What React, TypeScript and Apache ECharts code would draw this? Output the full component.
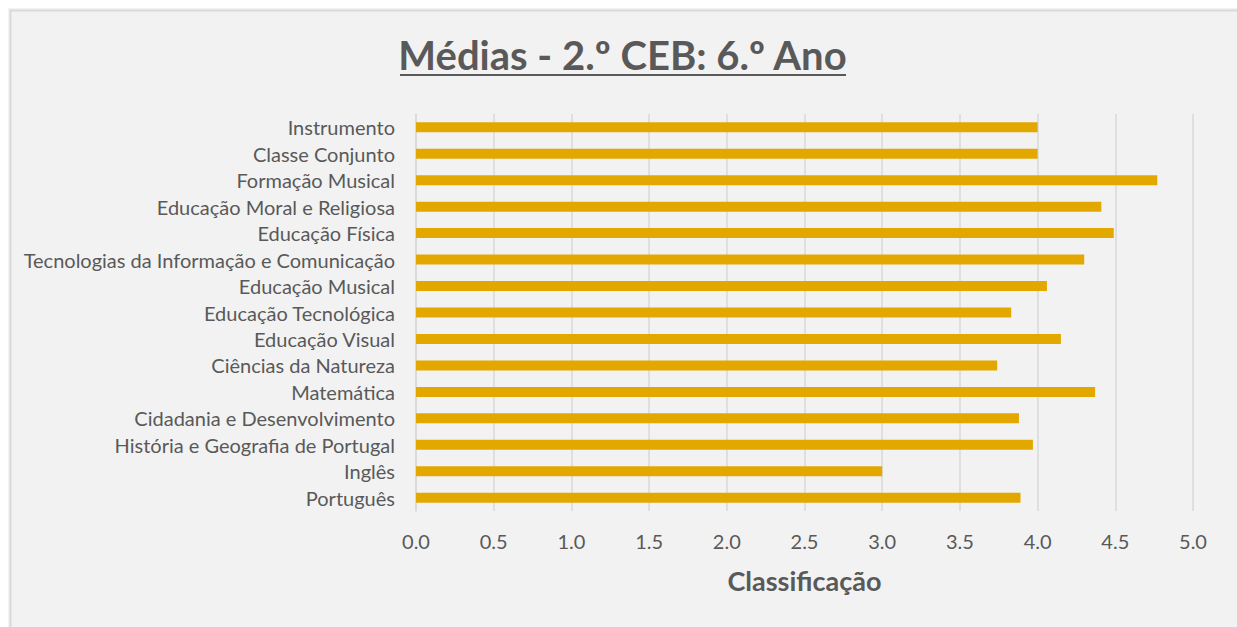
import React, { useEffect, useRef } from "react";
import * as echarts from "echarts";

const categories = [
  "Português",
  "Inglês",
  "História e Geografia de Portugal",
  "Cidadania e Desenvolvimento",
  "Matemática",
  "Ciências da Natureza",
  "Educação Visual",
  "Educação Tecnológica",
  "Educação Musical",
  "Tecnologias da Informação e Comunicação",
  "Educação Física",
  "Educação Moral e Religiosa",
  "Formação Musical",
  "Classe Conjunto",
  "Instrumento",
];

const values = [3.89, 3.0, 3.97, 3.88, 4.37, 3.74, 4.15, 3.83, 4.06, 4.3, 4.49, 4.41, 4.77, 4.0, 4.0];

const titleText = "Médias - 2.º CEB: 6.º Ano";
const axisTitle = "Classificação";

const TEXT = "#595959";
const BAR = "#E3A800";
const GRID = "#D9D9D9";
const FONT = "Lato, 'Open Sans', sans-serif";

export default function App() {
  const ref = useRef<HTMLDivElement>(null);

  useEffect(() => {
    if (!ref.current) return;
    const chart = echarts.init(ref.current, undefined, { renderer: "svg" });
    chart.setOption({
      animation: false,
      backgroundColor: "#F2F2F2",
      textStyle: { fontFamily: FONT, color: TEXT },
      title: {
        text: titleText,
        left: "center",
        top: 22,
        textStyle: { fontFamily: FONT, fontSize: 40, fontWeight: "bold", color: TEXT },
      },
      graphic: [
        {
          type: "rect",
          left: 0,
          top: 0,
          shape: { x: 0, y: 0, width: 1229, height: 619 },
          style: { fill: "none", stroke: "#D9D9D9", lineWidth: 2 },
          silent: true,
        },
        {
          type: "line",
          shape: { x1: 392, y1: 67, x2: 838, y2: 67 },
          style: { stroke: TEXT, lineWidth: 2 },
          silent: true,
        },
      ],
      grid: { left: 408, right: 44, top: 106, bottom: 116, containLabel: false },
      xAxis: {
        type: "value",
        min: 0,
        max: 5,
        interval: 0.5,
        name: axisTitle,
        nameLocation: "middle",
        nameGap: 56,
        nameTextStyle: { fontFamily: FONT, fontSize: 27, fontWeight: "bold", color: TEXT },
        axisLine: { show: false },
        axisTick: { show: false },
        axisLabel: {
          fontFamily: FONT,
          fontSize: 20,
          color: TEXT,
          margin: 20,
          formatter: (v: number) => v.toFixed(1),
        },
        splitLine: { show: true, lineStyle: { color: GRID, width: 1.5 } },
      },
      yAxis: {
        type: "category",
        data: categories,
        axisLine: { show: true, lineStyle: { color: GRID, width: 1.5 } },
        axisTick: { show: false },
        axisLabel: { fontFamily: FONT, fontSize: 20, color: TEXT, margin: 21 },
      },
      series: [
        {
          type: "bar",
          data: values,
          barWidth: 10,
          itemStyle: { color: BAR },
        },
      ],
    });
    return () => chart.dispose();
  }, []);

  return (
    <div
      ref={ref}
      style={{ position: "absolute", left: 8, top: 8, width: 1229, height: 619 }}
    />
  );
}
